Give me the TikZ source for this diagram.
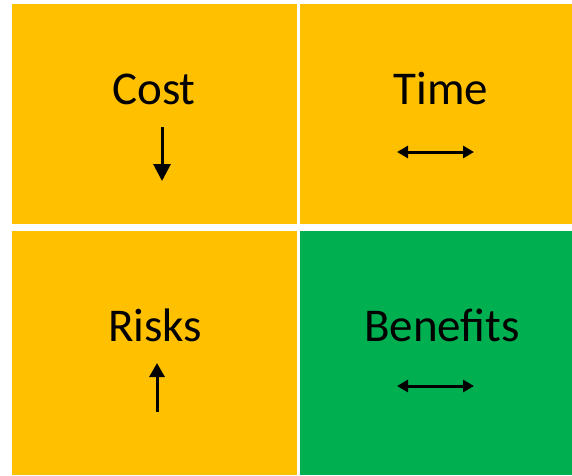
\documentclass[tikz,border=0pt]{standalone}
\usepackage{fontspec}
\setmainfont{Carlito}
\usetikzlibrary{arrows.meta}
\definecolor{amber}{HTML}{FFC000}
\definecolor{leafgreen}{HTML}{00B050}
\tikzset{
  cell/.style={draw=none,inner sep=0pt,anchor=north west},
  word/.style={anchor=base,inner sep=0pt,font=\fontsize{47}{51}\selectfont},
  bigarrow/.style={line width=3pt,-{Triangle[length=17pt,width=17pt]}},
  twoway/.style={line width=3pt,{Triangle[length=11pt,width=12pt]}-{Triangle[length=11pt,width=12pt]}}
}
\begin{document}
\begin{tikzpicture}[x=1pt,y=-1pt]
\useasboundingbox (0,0) rectangle (572,475);
\fill[white] (0,0) rectangle (572,475);
% the four cells
\node[cell,fill=amber,minimum width=285pt,minimum height=220pt] (costcell) at (12,4) {};
\node[cell,fill=amber,minimum width=272pt,minimum height=220pt] (timecell) at (300,4) {};
\node[cell,fill=amber,minimum width=285pt,minimum height=244pt] (riskcell) at (12,231) {};
\node[cell,fill=leafgreen,minimum width=272pt,minimum height=244pt] (gaincell) at (300,231) {};
% labels
\node[word] (cost) at (154,104) {Cost};
\node[word] (time) at (441,104) {Time};
\node[word] (risks) at (155,341) {Risks};
\node[word] (benefits) at (442,341) {Benefits};
% arrows
\coordinate (costtop) at (162,127);
\coordinate (costtip) at (162,181);
\coordinate (timeleft) at (397,152);
\coordinate (timeright) at (474,152);
\coordinate (riskbottom) at (157,412);
\coordinate (risktip) at (157,363);
\coordinate (gainleft) at (397,386);
\coordinate (gainright) at (474,386);
\draw[bigarrow] (costtop) -- (costtip);
\draw[twoway] (timeleft) -- (timeright);
\draw[bigarrow,-{Triangle[length=14pt,width=15pt]}] (riskbottom) -- (risktip);
\draw[twoway] (gainleft) -- (gainright);
\end{tikzpicture}
\end{document}
